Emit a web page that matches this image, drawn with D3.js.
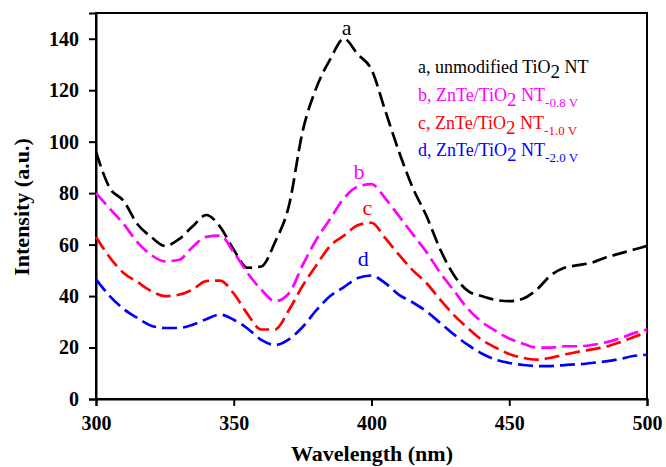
<!DOCTYPE html>
<html>
<head>
<meta charset="utf-8">
<script src="https://cdn.jsdelivr.net/npm/d3@7"></script>
<style>
  body { margin: 0; background: #fff; }
  svg { display: block; font-family: "Liberation Serif", "Times New Roman", serif; }
</style>
</head>
<body>
<svg id="chart" width="666" height="467"></svg>
<script>
// wavelength grid (nm)
const wavelength = d3.range(300, 501, 5);

// a, unmodified TiO2 NT
const seriesA = [96, 82, 77, 68, 63, 59.5, 62, 67, 71.5, 67, 58, 51, 51.5, 61, 75, 104, 121, 132, 140, 134,
  128, 112, 96, 82, 71, 58, 48, 42, 40, 38.5, 38, 39, 42.5, 48, 51, 52, 53, 55, 56.5, 58, 59.5];
// b, ZnTe/TiO2 NT -0.8 V
const seriesB = [80, 74, 68, 61, 56, 53.5, 54, 59, 63, 63.5, 57, 49, 42.5, 38, 41, 52, 62, 70, 78, 82.5,
  83.5, 78, 71, 64, 57, 49, 42, 35, 30, 26.5, 23.5, 21.5, 20, 20, 20.5, 20.5, 21, 22, 23.5, 25.5, 27];
// c, ZnTe/TiO2 NT -1.0 V
const seriesC = [63, 55, 49, 45.5, 42, 40, 40.5, 42.5, 45.8, 46, 41, 33, 27, 27, 34.5, 44, 52, 59.5, 63.5, 67.5,
  68.5, 62.5, 56, 50, 45, 38.5, 32.5, 27.5, 23, 20, 17.5, 16, 15.3, 16, 17.3, 18.3, 19.3, 20.3, 22, 24, 26];
// d, ZnTe/TiO2 NT -2.0 V
const seriesD = [46.5, 40, 35, 31.5, 28.5, 27.6, 27.6, 28.8, 31, 32.8, 30.8, 27.4, 23, 21, 23.2, 28, 34.5, 40, 43.5, 47,
  48, 45, 40.5, 37.5, 34, 29.5, 25, 21, 17.7, 15.3, 14, 13.2, 12.8, 12.8, 13.2, 13.5, 14, 14.6, 15.5, 16.7, 17.2];

const xTicks = [300, 350, 400, 450, 500];
const yTicks = [0, 20, 40, 60, 80, 100, 120, 140];

const series = [
  { key: "a", values: seriesA, color: "#000000", label: [391, 141.5] },
  { key: "b", values: seriesB, color: "#ff00ff", label: [395.5, 85.3] },
  { key: "c", values: seriesC, color: "#ff0000", label: [398.5, 71.5] },
  { key: "d", values: seriesD, color: "#0000ff", label: [397, 51.5] }
];

const legendRows = [
  { color: "#000000", pre: "a, unmodified TiO", sub: null },
  { color: "#ff00ff", pre: "b, ZnTe/TiO", sub: "-0.8 V" },
  { color: "#ff0000", pre: "c, ZnTe/TiO", sub: "-1.0 V" },
  { color: "#0000ff", pre: "d, ZnTe/TiO", sub: "-2.0 V" }
];

const svg = d3.select("#chart");
const margin = { top: 13, right: 19, bottom: 68, left: 96 };
const width = 666 - margin.left - margin.right;
const height = 467 - margin.top - margin.bottom;

const g = svg.append("g").attr("transform", `translate(${margin.left},${margin.top})`);

const x = d3.scaleLinear().domain([300, 500]).range([0, width]);
const y = d3.scaleLinear().domain([0, 150]).range([height, 0]);

// frame
g.append("rect")
  .attr("width", width).attr("height", height)
  .attr("fill", "none").attr("stroke", "#000").attr("stroke-width", 2);

const xAxis = g.append("g")
  .attr("transform", `translate(0,${height})`)
  .call(d3.axisBottom(x).tickValues(xTicks).tickSize(7).tickPadding(10).tickFormat(d3.format("d")));
const yAxis = g.append("g")
  .call(d3.axisLeft(y).tickValues(yTicks).tickSize(7).tickPadding(10).tickFormat(d3.format("d")));

[xAxis, yAxis].forEach(ax => {
  ax.attr("font-family", null).attr("font-size", null);
  ax.select(".domain").attr("stroke-width", 2);
  ax.selectAll(".tick line").attr("stroke-width", 2);
  ax.selectAll("text")
    .style("font-size", "20px").style("font-weight", "700").attr("fill", "#000");
});

// curves
const line = d3.line()
  .x((d, i) => x(wavelength[i]))
  .y(d => y(d))
  .curve(d3.curveMonotoneX);

g.selectAll(".curve")
  .data(series)
  .enter().append("path")
  .attr("class", "curve")
  .attr("d", d => line(d.values))
  .attr("fill", "none")
  .attr("stroke", d => d.color)
  .attr("stroke-width", 2.7)
  .attr("stroke-dasharray", "15,6");

// letters on curves
g.selectAll(".tag")
  .data(series)
  .enter().append("text")
  .attr("class", "tag")
  .attr("x", d => x(d.label[0]))
  .attr("y", d => y(d.label[1]))
  .attr("text-anchor", "middle")
  .attr("fill", d => d.color)
  .style("font-size", "22px")
  .text(d => d.key);

// legend
const legend = g.append("g").attr("transform", "translate(322, 60)");
legendRows.forEach((r, i) => {
  const t = legend.append("text")
    .attr("y", i * 27.8)
    .attr("fill", r.color)
    .style("font-size", "18px");
  t.append("tspan").text(r.pre);
  t.append("tspan").attr("dy", 5).style("font-size", "19px").text("2");
  t.append("tspan").attr("dy", -5).text(" NT");
  if (r.sub) {
    t.append("tspan").attr("dy", 6).style("font-size", "13px").text(r.sub);
  }
});

// axis titles
svg.append("text")
  .attr("x", 372)
  .attr("y", 461)
  .attr("text-anchor", "middle")
  .style("font-size", "22px").style("font-weight", "700")
  .text("Wavelength (nm)");

svg.append("text")
  .attr("transform", "translate(29, 207) rotate(-90)")
  .attr("text-anchor", "middle")
  .style("font-size", "22px").style("font-weight", "700")
  .text("Intensity (a.u.)");
</script>
</body>
</html>
